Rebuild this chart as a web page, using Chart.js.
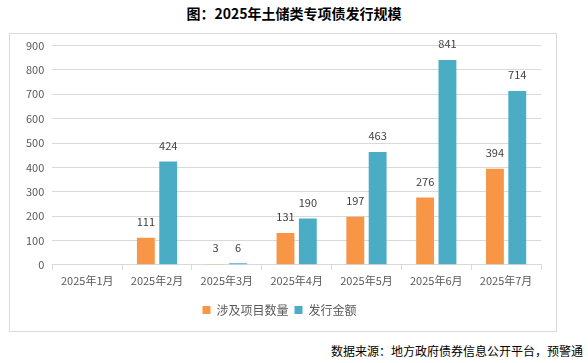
<!DOCTYPE html>
<html lang="zh-CN">
<head>
    <meta charset="UTF-8">
    <title>2025年土储类专项债发行规模</title>
    <script src="https://cdn.jsdelivr.net/npm/chart.js"></script>
    <style>
        body {
            margin: 0;
            width: 588px;
            height: 363px;
            background: #fff;
            position: relative;
            font-family: "Noto Sans CJK SC", sans-serif;
            overflow: hidden;
        }

        .title {
            position: absolute;
            left: 0;
            top: 3px;
            width: 588px;
            text-align: center;
            font-size: 14px;
            font-weight: bold;
            color: #000;
        }

        .box {
            position: absolute;
            left: 9px;
            top: 33px;
            width: 546px;
            height: 297px;
            border: 1px solid #d9d9d9;
        }

        .box canvas {
            position: absolute;
            left: 0;
            top: -3px;
        }

        .source {
            position: absolute;
            right: 5px;
            top: 342px;
            font-size: 12px;
            color: #000;
        }
    </style>
</head>
<body>
    <div class="title">图：2025年土储类专项债发行规模</div>
    <div class="box"><canvas id="bondChart" width="546" height="300"></canvas></div>
    <div class="source">数据来源：地方政府债券信息公开平台，预警通</div>

    <script>
        const months = ['2025年1月', '2025年2月', '2025年3月', '2025年4月', '2025年5月', '2025年6月', '2025年7月'];
        const projectCount = [null, 111, 3, 131, 197, 276, 394];
        const issueAmount = [null, 424, 6, 190, 463, 841, 714];
        const yTicks = [0, 100, 200, 300, 400, 500, 600, 700, 800, 900];

        // 柱顶数值标签
        const valueLabels = {
            id: 'valueLabels',
            afterDatasetsDraw(chart) {
                const c = chart.ctx;
                c.save();
                c.font = '11px "Noto Sans CJK SC", sans-serif';
                c.fillStyle = '#404040';
                c.textAlign = 'center';
                c.textBaseline = 'middle';
                chart.data.datasets.forEach((ds, i) => {
                    chart.getDatasetMeta(i).data.forEach((bar, j) => {
                        if (ds.data[j] == null) return;
                        c.fillText(ds.data[j], bar.x, bar.y - 16);
                    });
                });
                c.restore();
            }
        };

        new Chart(document.getElementById('bondChart'), {
            type: 'bar',
            data: {
                labels: months,
                datasets: [
                    { label: '涉及项目数量', data: projectCount, backgroundColor: '#f79646' },
                    { label: '发行金额', data: issueAmount, backgroundColor: '#4bacc6' }
                ]
            },
            options: {
                responsive: false,
                animation: false,
                layout: { padding: { left: 8, right: 15, top: 3, bottom: 5 } },
                datasets: { bar: { categoryPercentage: 0.64, barPercentage: 0.8 } },
                scales: {
                    x: {
                        afterFit(scale) { scale.height += 7; },
                        grid: { display: true, drawOnChartArea: false, tickLength: 5, color: '#d9d9d9', offset: true },
                        border: { color: '#d9d9d9' },
                        ticks: { color: '#595959', font: { size: 11, family: '"Noto Sans CJK SC", sans-serif' }, padding: 4 }
                    },
                    y: {
                        min: 0,
                        max: 900,
                        afterBuildTicks(axis) { axis.ticks = yTicks.map(v => ({ value: v })); },
                        grid: { color: '#d9d9d9', drawTicks: false },
                        border: { display: false },
                        ticks: { color: '#595959', font: { size: 11, family: '"Noto Sans CJK SC", sans-serif' }, padding: 8 }
                    }
                },
                plugins: {
                    legend: {
                        position: 'bottom',
                        labels: {
                            boxWidth: 8,
                            boxHeight: 8,
                            padding: 6,
                            color: '#595959',
                            font: { size: 12, family: '"Noto Sans CJK SC", sans-serif' }
                        }
                    },
                    tooltip: { enabled: false }
                }
            },
            plugins: [valueLabels]
        });
    </script>
</body>
</html>
